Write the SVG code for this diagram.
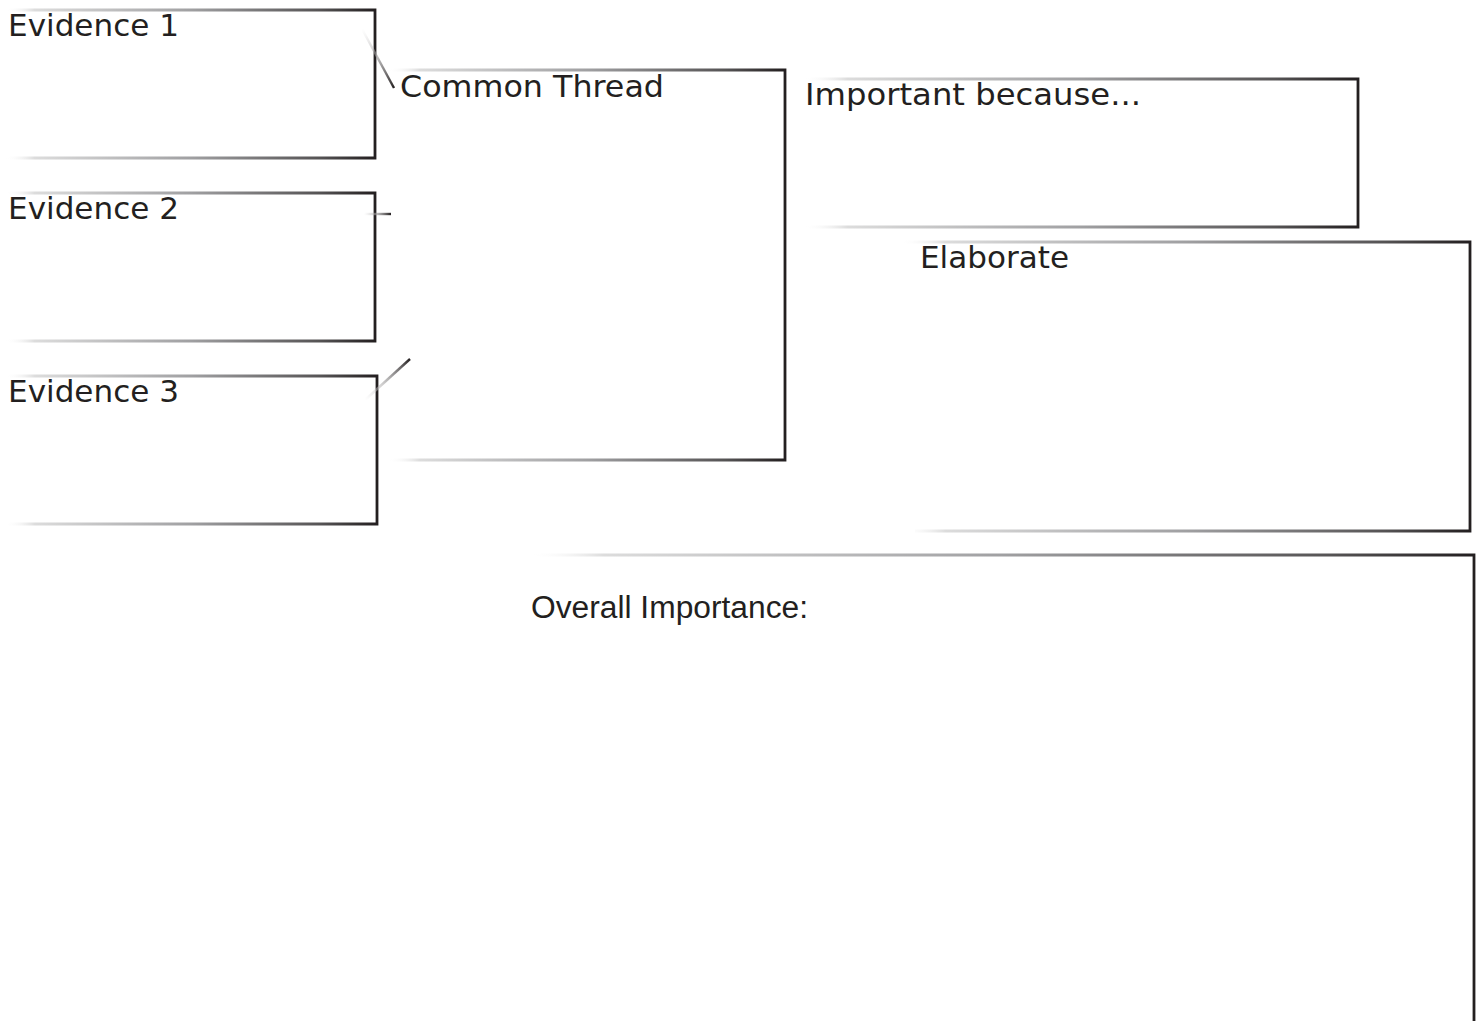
<svg xmlns="http://www.w3.org/2000/svg" width="1478" height="1021" viewBox="0 0 1478 1021">
  <defs>
    <linearGradient id="edge" x1="0" y1="0" x2="1" y2="0">
      <stop offset="0" stop-color="#ffffff" stop-opacity="0"/>
      <stop offset="0.08" stop-color="#dcdcdc"/>
      <stop offset="0.5" stop-color="#a0a0a2"/>
      <stop offset="0.85" stop-color="#555354"/>
      <stop offset="1" stop-color="#231f20"/>
    </linearGradient>
    <linearGradient id="c1" gradientUnits="userSpaceOnUse" x1="362" y1="29" x2="394" y2="88">
      <stop offset="0" stop-color="#ffffff" stop-opacity="0.3"/>
      <stop offset="1" stop-color="#231f20"/>
    </linearGradient>
    <linearGradient id="c2" gradientUnits="userSpaceOnUse" x1="364" y1="214" x2="391" y2="214">
      <stop offset="0" stop-color="#ffffff" stop-opacity="0.3"/>
      <stop offset="1" stop-color="#231f20"/>
    </linearGradient>
    <linearGradient id="c3" gradientUnits="userSpaceOnUse" x1="365" y1="400" x2="410" y2="359">
      <stop offset="0" stop-color="#ffffff" stop-opacity="0.3"/>
      <stop offset="1" stop-color="#231f20"/>
    </linearGradient>
  </defs>
  <style>
    .box { fill: none; stroke: url(#edge); stroke-width: 2.8; }
    .lbl { font-family: "DejaVu Sans", Verdana, sans-serif; font-size: 30.5px; fill: #231f20; }
    .lbl2 { font-family: "Liberation Sans", Arial, sans-serif; font-size: 31px; fill: #231f20; }
    .con { fill: none; stroke-width: 2.4; }
  </style>
  <rect width="1478" height="1021" fill="#ffffff"/>

  <g id="evidence1">
    <path class="box" d="M5,10 H375 V158 H5"/>
    <text class="lbl" x="8" y="36" textLength="171" lengthAdjust="spacingAndGlyphs">Evidence 1</text>
  </g>
  <g id="evidence2">
    <path class="box" d="M5,193 H375 V341 H5"/>
    <text class="lbl" x="8" y="219" textLength="171" lengthAdjust="spacingAndGlyphs">Evidence 2</text>
  </g>
  <g id="evidence3">
    <path class="box" d="M5,376 H377 V524 H5"/>
    <text class="lbl" x="8" y="402" textLength="171" lengthAdjust="spacingAndGlyphs">Evidence 3</text>
  </g>
  <g id="common-thread">
    <path class="box" d="M388,70 H785 V460 H388"/>
    <text class="lbl" x="400" y="97" textLength="264" lengthAdjust="spacingAndGlyphs">Common Thread</text>
  </g>
  <g id="important">
    <path class="box" d="M803,79 H1358 V227 H803"/>
    <text class="lbl" x="805" y="105" textLength="336" lengthAdjust="spacingAndGlyphs">Important because...</text>
  </g>
  <g id="elaborate">
    <path class="box" d="M900,242 H1470 V531 H915"/>
    <text class="lbl" x="920" y="268" textLength="149" lengthAdjust="spacingAndGlyphs">Elaborate</text>
  </g>
  <g id="overall">
    <path class="box" d="M528,555 H1474 V1030"/>
    <text class="lbl2" x="531" y="618" textLength="277" lengthAdjust="spacingAndGlyphs">Overall Importance:</text>
  </g>

  <g id="connectors">
    <line class="con" x1="362" y1="29" x2="394" y2="88" stroke="url(#c1)"/>
    <line class="con" x1="364" y1="214" x2="391" y2="214" stroke="url(#c2)"/>
    <line class="con" x1="365" y1="400" x2="410" y2="359" stroke="url(#c3)"/>
  </g>
</svg>
